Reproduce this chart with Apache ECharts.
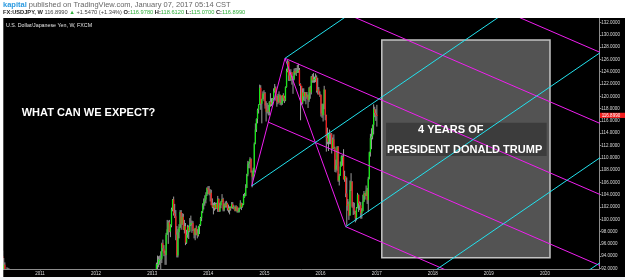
<!DOCTYPE html>
<html>
<head>
<meta charset="utf-8">
<script src="https://cdn.jsdelivr.net/npm/echarts@6/dist/echarts.min.js"></script>
<style>
html, body { margin: 0; padding: 0; background: #fff; }
#chart { width: 625px; height: 280px; }
</style>
</head>
<body>
<div id="chart"></div>
<script>
var WEEK = 7 * 24 * 3600 * 1000;

// weekly bars, [open, high, low, close], USDJPY FXCM
var start2010 = '2010-05-03';
var bars2010 = [
  [94.0, 94.9, 87.9, 91.5], [91.6, 93.7, 91.3, 92.6], [92.6, 93.0, 88.9, 90.0], [90.0, 91.8, 89.1, 91.7],
  [91.7, 92.2, 90.9, 91.8], [91.8, 92.1, 90.9, 91.7], [91.7, 92.0, 90.8, 90.7], [90.7, 91.5, 89.1, 89.3]
];

var start2013 = '2013-01-28';
var bars = [
  // 2013
  [90.8, 92.96, 90.6, 92.7], [92.7, 94.1, 91.9, 92.7], [92.7, 94.0, 92.2, 93.5], [93.4, 94.1, 92.6, 93.4],
  [93.5, 94.8, 90.9, 93.6], [93.6, 96.2, 92.9, 96.0], [96.1, 96.7, 94.8, 95.3], [95.2, 95.8, 94.0, 94.5],
  [94.5, 94.9, 92.6, 94.2], [94.2, 97.8, 92.6, 97.5], [97.5, 99.9, 97.5, 98.4], [98.4, 99.8, 96.0, 99.5],
  [99.5, 99.9, 97.9, 98.0], [98.0, 99.2, 97.1, 99.0], [99.0, 101.9, 98.7, 101.6], [101.6, 103.3, 101.3, 103.2],
  [103.2, 103.7, 100.6, 101.0], [101.0, 102.5, 100.2, 100.5], [100.5, 101.5, 96.6, 97.5], [97.5, 98.9, 93.8, 94.1],
  [94.1, 98.4, 93.8, 97.9], [97.9, 99.2, 96.9, 98.7], [98.7, 101.5, 98.6, 101.2], [101.2, 101.5, 98.3, 99.2],
  [99.2, 101.0, 99.1, 100.4], [100.4, 100.9, 98.3, 98.3], [98.3, 99.9, 97.7, 98.9], [98.9, 99.4, 95.8, 96.2],
  [96.2, 98.3, 96.0, 97.5], [97.5, 99.1, 97.0, 98.7], [98.7, 99.0, 96.8, 98.1], [98.1, 100.2, 97.9, 99.1],
  [99.1, 100.6, 98.9, 99.4], [99.4, 99.8, 97.8, 99.4], [99.4, 99.7, 98.1, 98.3], [98.3, 98.4, 96.9, 97.5],
  [97.5, 98.6, 96.6, 98.6], [98.6, 99.0, 97.4, 97.7], [97.7, 98.4, 96.9, 97.4], [97.4, 98.9, 97.2, 98.7],
  [98.7, 99.2, 97.6, 99.1], [99.1, 100.4, 98.9, 100.2], [100.2, 101.3, 99.7, 101.3], [101.3, 102.6, 101.0, 102.4],
  [102.4, 103.4, 101.6, 102.9], [102.9, 103.9, 102.2, 103.2], [103.2, 104.4, 102.6, 104.0], [104.0, 105.2, 103.8, 105.1],
  [105.1, 105.4, 104.1, 104.8],
  // 2014
  [104.8, 105.4, 103.9, 104.1], [104.1, 104.9, 102.9, 104.3], [104.3, 104.8, 102.3, 102.3], [102.3, 103.4, 101.8, 102.0],
  [102.0, 102.7, 100.8, 102.3], [102.3, 102.8, 101.4, 101.8], [101.8, 102.7, 101.6, 102.5], [102.5, 102.7, 101.7, 101.8],
  [101.8, 103.8, 101.2, 103.3], [103.3, 103.4, 101.2, 101.3], [101.3, 102.7, 101.2, 102.3], [102.3, 103.0, 101.8, 102.8],
  [102.8, 104.1, 102.8, 103.3], [103.3, 103.5, 101.3, 101.6], [101.6, 102.6, 101.3, 102.4], [102.4, 102.9, 101.9, 102.2],
  [102.2, 103.0, 101.9, 102.6], [102.6, 102.7, 101.4, 101.8], [101.8, 102.4, 101.1, 101.5], [101.5, 102.1, 100.8, 101.9],
  [101.9, 102.1, 101.4, 101.8], [101.8, 102.8, 101.8, 102.5], [102.5, 102.8, 101.7, 102.0], [102.0, 102.3, 101.6, 102.0],
  [102.0, 102.1, 101.3, 101.4], [101.4, 102.3, 101.3, 102.1], [102.1, 102.1, 101.1, 101.3], [101.3, 101.9, 101.1, 101.3],
  [101.3, 101.9, 101.1, 101.8], [101.8, 103.1, 101.7, 102.6], [102.6, 102.7, 101.5, 102.0], [102.0, 102.6, 101.9, 102.4],
  [102.4, 104.1, 102.3, 103.8], [103.8, 104.3, 103.5, 103.8], [103.8, 105.7, 103.8, 105.1], [105.1, 107.4, 105.1, 107.3],
  [107.3, 109.5, 107.0, 109.0], [109.0, 109.4, 108.3, 109.3], [109.3, 110.1, 108.3, 109.8], [109.8, 109.9, 107.6, 107.6],
  [107.6, 107.9, 105.2, 106.9], [106.9, 108.4, 106.5, 108.1], [108.1, 112.5, 107.6, 112.3], [112.3, 115.6, 112.2, 114.6],
  [114.6, 116.4, 114.2, 116.3], [116.3, 118.0, 115.6, 117.8], [117.8, 118.7, 117.2, 118.6], [118.6, 121.9, 118.6, 121.4],
  [121.4, 121.8, 117.8, 118.8], [118.8, 119.6, 115.6, 119.5], [119.5, 120.8, 119.5, 120.4], [120.4, 121.0, 119.2, 120.5],
  // 2015
  [120.5, 120.7, 118.0, 118.5], [118.5, 119.2, 115.9, 117.5], [117.5, 118.9, 117.2, 117.7], [117.7, 118.6, 116.9, 117.5],
  [117.5, 119.2, 116.9, 119.1], [119.1, 120.5, 118.3, 118.7], [118.7, 119.7, 118.4, 119.0], [119.0, 119.7, 118.6, 119.6],
  [119.6, 121.3, 119.3, 120.8], [120.8, 122.0, 120.6, 121.4], [121.4, 121.6, 119.3, 120.0], [120.0, 120.1, 118.3, 119.1],
  [119.1, 120.4, 118.7, 119.0], [119.0, 120.8, 119.0, 120.2], [120.2, 120.3, 118.6, 118.9], [118.9, 120.1, 118.5, 118.9],
  [118.9, 120.1, 118.6, 120.2], [120.2, 120.5, 119.2, 119.7], [119.7, 120.1, 118.9, 119.3], [119.3, 121.6, 119.2, 121.5],
  [121.5, 124.5, 121.4, 124.1], [124.1, 125.9, 123.9, 125.6], [125.6, 125.7, 122.5, 123.4], [123.4, 124.0, 122.5, 122.7],
  [122.7, 124.4, 122.5, 123.9], [123.9, 123.9, 121.9, 122.8], [122.8, 123.3, 120.4, 122.8], [122.8, 124.5, 122.6, 124.1],
  [124.1, 124.6, 123.5, 123.8], [123.8, 124.6, 123.3, 123.9], [123.9, 125.1, 123.8, 124.2], [124.2, 125.3, 123.8, 124.3],
  [124.3, 124.6, 121.7, 122.0], [122.0, 122.1, 116.1, 121.7], [121.7, 121.7, 118.6, 119.0], [119.0, 121.3, 118.7, 120.6],
  [120.6, 121.3, 119.3, 120.0], [120.0, 120.7, 119.2, 120.6], [120.6, 120.7, 118.7, 119.9], [119.9, 120.7, 119.6, 120.2],
  [120.2, 120.3, 118.1, 119.4], [119.4, 121.5, 119.1, 121.4], [121.4, 121.7, 119.6, 120.6], [120.6, 123.3, 120.3, 123.2],
  [123.2, 123.6, 122.2, 122.6], [122.6, 123.8, 122.2, 122.8], [122.8, 123.2, 122.2, 122.8], [122.8, 123.7, 122.3, 123.1],
  [123.1, 123.4, 120.6, 120.9], [120.9, 123.0, 120.3, 121.1], [121.1, 121.5, 120.3, 120.3], [120.3, 120.8, 119.9, 120.2],
  // 2016
  [120.2, 120.3, 116.7, 117.2], [117.2, 118.8, 116.5, 116.9], [116.9, 118.8, 115.9, 118.7], [118.7, 121.7, 117.9, 121.1],
  [121.1, 121.0, 116.1, 116.9], [116.9, 117.0, 111.0, 113.2], [113.2, 114.9, 112.2, 112.6], [112.6, 114.1, 111.1, 113.9],
  [113.9, 114.6, 112.2, 114.0], [114.0, 114.0, 112.2, 113.8], [113.8, 114.0, 110.7, 111.5], [111.5, 113.3, 111.4, 113.0],
  [113.0, 113.8, 111.4, 111.6], [111.6, 111.8, 107.7, 108.1], [108.1, 109.7, 107.6, 108.8], [108.8, 111.9, 107.9, 111.8],
  [111.8, 111.9, 106.1, 106.3], [106.3, 107.4, 105.5, 107.1], [107.1, 109.4, 107.1, 108.6], [108.6, 110.4, 108.6, 110.2],
  [110.2, 110.4, 108.7, 110.2], [110.2, 111.4, 106.5, 106.5], [106.5, 107.9, 106.1, 107.0], [107.0, 107.0, 103.6, 104.2],
  [104.2, 106.8, 99.0, 102.2], [102.2, 103.3, 101.4, 102.5], [102.5, 102.9, 99.9, 100.6], [100.6, 106.3, 100.6, 104.8],
  [104.8, 107.5, 104.6, 106.1], [106.1, 106.2, 101.9, 102.1], [102.1, 102.8, 100.7, 101.8], [101.8, 102.7, 100.8, 101.3],
  [101.3, 101.4, 99.5, 100.2], [100.2, 102.0, 99.8, 101.8], [101.8, 104.3, 101.8, 104.0], [104.0, 104.0, 101.2, 102.6],
  [102.6, 102.9, 101.5, 102.3], [102.3, 102.8, 100.1, 101.0], [101.0, 101.8, 100.1, 101.3], [101.3, 104.0, 101.3, 102.9],
  [102.9, 104.6, 102.8, 104.2], [104.2, 104.3, 103.2, 103.8], [103.8, 105.5, 103.8, 104.7], [104.7, 105.1, 102.5, 103.1],
  [103.1, 106.9, 101.2, 106.6], [106.6, 111.0, 106.5, 110.9], [110.9, 113.9, 110.2, 113.2], [113.2, 114.8, 111.4, 113.5],
  [113.5, 115.4, 113.0, 115.3], [115.3, 118.7, 113.8, 117.9], [117.9, 118.3, 116.6, 117.3], [117.3, 117.9, 116.0, 116.9],
  // 2017
  [116.978, 118.612, 115.07, 116.899]
];
var lastClose = 116.899;

// visible window
var viewStart = '2010-05-07';
var viewEnd = '2020-12-20';
var priceMin = 91.92;
var priceMax = 132.73;

var yearTicks = [2011, 2012, 2013, 2014, 2015, 2016, 2017, 2018, 2019, 2020];
var priceTicks = [92, 94, 96, 98, 100, 102, 104, 106, 108, 110, 112, 114, 116, 118, 120,
                  122, 124, 126, 128, 130, 132];

// pitchfork anchors [date, price]
var pivotA = ['2014-10-10', 105.41];
var pivotB = ['2015-05-15', 126.18];
var pivotC = ['2016-06-13', 98.80];

// highlighted period and its caption band [date, price]
var boxFrom = ['2017-02-03', 129.15];
var boxTo = ['2020-02-03', 93.76];
var bandFrom = ['2017-03-03', 115.71];
var bandTo = ['2020-01-12', 110.29];

function toTime(s) {
    var p = s.split('-');
    return Date.UTC(+p[0], +p[1] - 1, +p[2]);
}

function weekly(start, rows) {
    var t0 = toTime(start);
    return rows.map(function (r, i) {
        return [t0 + i * WEEK, r[0], r[1], r[2], r[3]];
    });
}

var candleData = weekly(start2010, bars2010).concat(weekly(start2013, bars));
var yearTimes = yearTicks.map(function (y) { return Date.UTC(y, 0, 1); });

function pt(a) { return [toTime(a[0]), a[1]]; }
function plus(p, q, k) { return [p[0] + q[0] * k, p[1] + q[1] * k]; }
function minus(p, q) { return [p[0] - q[0], p[1] - q[1]]; }

var A = pt(pivotA), B = pt(pivotB), C = pt(pivotC);
var M = [(B[0] + C[0]) / 2, (B[1] + C[1]) / 2];
var farEnd = toTime('2022-06-01');

function ray(start, dir) {
    var k = (farEnd - start[0]) / dir[0];
    return {coords: [start, plus(start, dir, k)]};
}

// andrews pitchfork from A (cyan), with two extra levels under C
var dirCyan = minus(M, A);
var halfBC = minus(C, M);
var cyanLines = [
    ray(A, dirCyan), ray(B, dirCyan), ray(C, dirCyan),
    ray(plus(C, halfBC, 1), dirCyan), ray(plus(C, halfBC, 2), dirCyan)
];

// modified schiff pitchfork (magenta), two extra levels above B
var P2 = [(A[0] + B[0]) / 2, (A[1] + B[1]) / 2];
var dirMag = minus(M, P2);
var magentaLines = [
    {coords: [A, B]}, {coords: [B, C]},
    ray(P2, dirMag), ray(B, dirMag), ray(C, dirMag),
    ray(plus(B, halfBC, -1), dirMag), ray(plus(B, halfBC, -2), dirMag)
];

function renderCandle(params, api) {
    var t = api.value(0);
    var o = api.value(1), h = api.value(2), l = api.value(3), c = api.value(4);
    var hi = api.coord([t, h]);
    var lo = api.coord([t, l]);
    var top = api.coord([t, Math.max(o, c)]);
    var bot = api.coord([t, Math.min(o, c)]);
    var x = hi[0];
    return {
        type: 'group',
        children: [
            {type: 'line', shape: {x1: x, y1: hi[1], x2: x, y2: lo[1]},
             style: {stroke: '#9a9a9a', lineWidth: 1}},
            {type: 'rect', shape: {x: x - 0.65, y: top[1], width: 1.3, height: Math.max(1, bot[1] - top[1])},
             style: {fill: c >= o ? '#19e619' : '#f01c1c'}}
        ]
    };
}

var chart = echarts.init(document.getElementById('chart'));

var axisFont = '"Liberation Sans", Arial, sans-serif';
var option = {
    backgroundColor: '#000',
    animation: false,
    grid: {left: 3.3, right: 25.7, top: 18, bottom: 11},
    xAxis: {
        type: 'value',
        min: toTime(viewStart),
        max: toTime(viewEnd),
        splitLine: {show: false},
        axisLine: {lineStyle: {color: '#8c8c8c', width: 1}},
        axisTick: {show: true, length: 1.5, lineStyle: {color: '#8c8c8c'}, customValues: yearTimes},
        axisLabel: {
            customValues: yearTimes,
            formatter: function (v) { return String(new Date(v).getUTCFullYear()); },
            color: '#dcdcdc', fontSize: 4.5, margin: 2, fontFamily: axisFont
        }
    },
    yAxis: {
        type: 'value',
        position: 'right',
        min: priceMin,
        max: priceMax,
        splitLine: {show: false},
        axisLine: {show: true, lineStyle: {color: '#8c8c8c'}},
        axisTick: {show: true, length: 2, lineStyle: {color: '#8c8c8c'}, customValues: priceTicks},
        axisLabel: {
            customValues: priceTicks,
            formatter: function (v) { return v.toFixed(4); },
            color: '#dcdcdc', fontSize: 4.5, margin: 2, fontFamily: axisFont
        }
    },
    series: [
        {
            type: 'custom',
            name: 'USDJPY',
            renderItem: renderCandle,
            data: candleData,
            encode: {x: 0, y: [1, 2, 3, 4]},
            clip: true,
            z: 2,
            markArea: {
                silent: true,
                data: [
                    [{coord: pt(boxFrom), itemStyle: {color: '#535353', borderColor: '#c4c4c4', borderWidth: 1.5}},
                     {coord: pt(boxTo)}],
                    [{coord: pt(bandFrom), itemStyle: {color: '#3c3c3c', borderWidth: 0}},
                     {coord: pt(bandTo)}]
                ]
            }
        },
        {
            type: 'lines',
            coordinateSystem: 'cartesian2d',
            data: magentaLines,
            lineStyle: {color: '#f01ef0', width: 1, opacity: 1},
            clip: true,
            silent: true,
            z: 3
        },
        {
            type: 'lines',
            coordinateSystem: 'cartesian2d',
            data: cyanLines,
            lineStyle: {color: '#22e2ee', width: 1, opacity: 1},
            clip: true,
            silent: true,
            z: 3
        }
    ]
};
chart.setOption(option);

// texts, header and the last price tag
var yLast = chart.convertToPixel({yAxisIndex: 0}, lastClose);
var txtFont = '"Liberation Sans", "DejaVu Sans", sans-serif';
chart.setOption({
    graphic: [
        {type: 'rect', z: 100, shape: {x: 0, y: 0, width: 625, height: 18}, style: {fill: '#fff'}},
        {type: 'rect', z: 100, shape: {x: 0, y: 18, width: 3.3, height: 262}, style: {fill: '#fff'}},
        {type: 'rect', z: 100, shape: {x: 0, y: 277, width: 625, height: 3}, style: {fill: '#f0f2f5'}},
        {
            type: 'text', z: 101, x: 3, y: 4.5,
            style: {
                text: '{a|kapital}{b| published on TradingView.com, January 07, 2017 05:14 CST}',
                verticalAlign: 'middle',
                rich: {
                    a: {fill: '#2b9ae0', fontWeight: 'bold', fontSize: 7.5, fontFamily: txtFont},
                    b: {fill: '#666', fontSize: 7.5, fontFamily: txtFont}
                }
            }
        },
        {
            type: 'text', z: 101, x: 3, y: 12.5,
            style: {
                text: '{k|FX:USDJPY, W }{d|116.8990 }{g|\u25B2 }{d|+1.5470 (+1.34%) }{k|O:}{g|116.9780 }{k|H:}{g|118.6120 }{k|L:}{g|115.0700 }{k|C:}{g|116.8990}',
                verticalAlign: 'middle',
                rich: {
                    k: {fill: '#222', fontWeight: 'bold', fontSize: 5.7, fontFamily: txtFont},
                    d: {fill: '#444', fontSize: 5.7, fontFamily: txtFont},
                    g: {fill: '#2fae3a', fontSize: 5.7, fontFamily: txtFont}
                }
            }
        },
        {
            type: 'text', z: 101, x: 6, y: 25.5,
            style: {text: 'U.S. Dollar/Japanese Yen, W, FXCM', fill: '#e6e6e6', fontSize: 5.3,
                    fontFamily: txtFont, verticalAlign: 'middle'}
        },
        {
            type: 'text', z: 101, x: 21.7, y: 113,
            style: {text: 'WHAT CAN WE EXPECT?', fill: '#fff', fontSize: 11, fontWeight: 'bold',
                    fontFamily: txtFont, verticalAlign: 'middle'}
        },
        {
            type: 'text', z: 101, x: 418, y: 130,
            style: {text: '4 YEARS OF', fill: '#fff', fontSize: 11, fontWeight: 'bold',
                    fontFamily: txtFont, verticalAlign: 'middle'}
        },
        {
            type: 'text', z: 101, x: 387, y: 150,
            style: {text: 'PRESIDENT DONALD TRUMP', fill: '#fff', fontSize: 11, fontWeight: 'bold',
                    fontFamily: txtFont, verticalAlign: 'middle'}
        },
        {type: 'rect', z: 101, shape: {x: 600, y: yLast - 2.6, width: 25, height: 5.2}, style: {fill: '#f21d1d'}},
        {
            type: 'text', z: 102, x: 601.7, y: yLast,
            style: {text: lastClose.toFixed(4), fill: '#fff', fontSize: 4.5, fontFamily: axisFont,
                    verticalAlign: 'middle'}
        }
    ]
});
</script>
</body>
</html>
